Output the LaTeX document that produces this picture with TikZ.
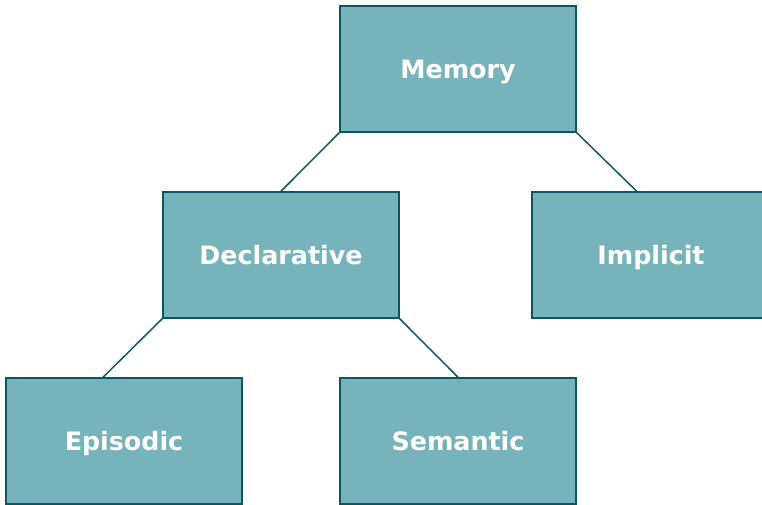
\documentclass[tikz,border=0pt]{standalone}
\usepackage{fontspec}
\setmainfont{DejaVu Sans}
\usepackage{tikz}
\usetikzlibrary{shadows}

\definecolor{boxfill}{HTML}{77B3BA}
\definecolor{boxline}{HTML}{0E5563}

\tikzset{
  membox/.style={draw=boxline, fill=boxfill, line width=1.1pt,
    minimum width=177pt, minimum height=94.5pt, inner sep=0pt,
    text height=13.9pt, text depth=0pt,
    text=white, font=\bfseries\fontsize{19pt}{21pt}\selectfont,
    drop shadow={shadow xshift=1pt, shadow yshift=-1pt, opacity=.25, fill=gray}},
  link/.style={draw=boxline, line width=1.1pt}
}

\begin{document}
\begin{tikzpicture}[x=0.75pt, y=-0.75pt]
    \useasboundingbox (0,0) rectangle (762,505);
    \clip (0,0) rectangle (762,505);
    % top level
    \node[membox] (memory) at (458,69) {Memory};
    % second level
    \node[membox] (declarative) at (281,255) {Declarative};
    % right box runs off the page
    \node[membox, minimum width=195pt] (implicit) at (662,255) {Implicit\kern16.5pt};
    % third level
    \node[membox] (episodic) at (124,441) {Episodic};
    \node[membox] (semantic) at (458,441) {Semantic};
    % links
    \draw[link] (memory.south west) -- (declarative.north);
    \draw[link] (memory.south east) -- ([xshift=-19pt]implicit.north);
    \draw[link] (declarative.south west) -- ([xshift=-15.75pt]episodic.north);
    \draw[link] (declarative.south east) -- (semantic.north);
\end{tikzpicture}
\end{document}
